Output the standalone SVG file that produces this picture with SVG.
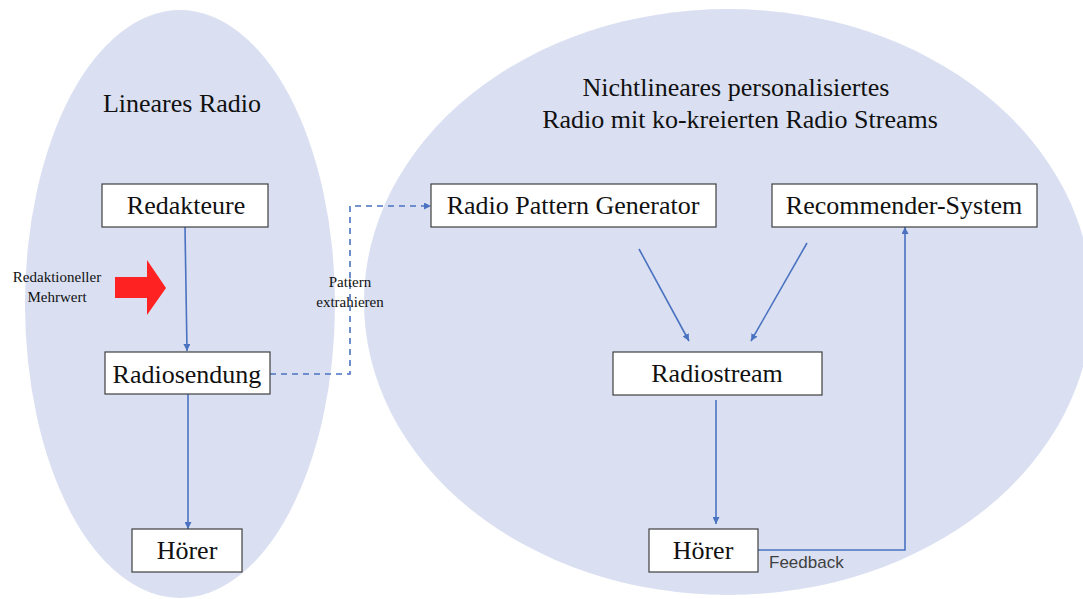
<svg xmlns="http://www.w3.org/2000/svg" width="1083" height="599" viewBox="0 0 1083 599">
  <style>
    .zone { fill: #dae0f2; }
    .box { fill: #ffffff; stroke: #3f3f3f; stroke-width: 1.2; }
    .lbl { font-family: "Liberation Serif", serif; font-size: 26px; fill: #111; text-anchor: middle; }
    .title { font-family: "Liberation Serif", serif; font-size: 26px; fill: #111; text-anchor: middle; }
    .small { font-family: "Liberation Serif", serif; font-size: 15px; fill: #111; text-anchor: middle; }
    .sans { font-family: "Liberation Sans", Arial, sans-serif; font-size: 17px; fill: #404040; }
    .flow { fill: none; stroke: #4a72c0; stroke-width: 1.6; }
    .dash { stroke-dasharray: 6 5; }
  </style>
  <defs>
    <marker id="tip" viewBox="0 0 10 10" refX="10" refY="5" markerWidth="7" markerHeight="7" markerUnits="userSpaceOnUse" orient="auto">
      <path d="M0,0 L10,5 L0,10 Z" fill="#4a72c0"/>
    </marker>
  </defs>

  <rect width="1083" height="599" fill="#ffffff"/>

  <!-- background zones -->
  <g id="zone-linear">
    <ellipse class="zone" cx="180" cy="304" rx="155" ry="294"/>
    <text class="title" x="182" y="112">Lineares Radio</text>
  </g>
  <g id="zone-nonlinear">
    <ellipse class="zone" cx="728" cy="302" rx="364" ry="293"/>
    <text class="title" x="736" y="96">Nichtlineares personalisiertes</text>
    <text class="title" x="740" y="128">Radio mit ko-kreierten Radio Streams</text>
  </g>

  <!-- editorial added value -->
  <g id="added-value">
    <path d="M115,277 L147,277 L147,260 L166,288 L147,315 L147,298 L115,298 Z" fill="#ff2222"/>
    <text class="small" x="57" y="282">Redaktioneller</text>
    <text class="small" x="57" y="302">Mehrwert</text>
  </g>

  <!-- connectors -->
  <g id="connectors">
    <line class="flow" x1="185" y1="227" x2="187" y2="351" marker-end="url(#tip)"/>
    <line class="flow" x1="188" y1="394" x2="188" y2="529" marker-end="url(#tip)"/>
    <polyline class="flow dash" points="270,374 350,374 350,206 431,206" marker-end="url(#tip)"/>
    <line class="flow" x1="639" y1="249" x2="689" y2="341" marker-end="url(#tip)"/>
    <line class="flow" x1="807" y1="243" x2="751" y2="341" marker-end="url(#tip)"/>
    <line class="flow" x1="716" y1="400" x2="716" y2="524" marker-end="url(#tip)"/>
    <polyline class="flow" points="758,550 905,550 905,227" marker-end="url(#tip)"/>
    <text class="small" x="350" y="287">Pattern</text>
    <text class="small" x="350" y="307">extrahieren</text>
    <text class="sans" x="769" y="568">Feedback</text>
  </g>

  <!-- nodes -->
  <g id="redakteure">
    <rect class="box" x="102" y="184" width="166" height="43"/>
    <text class="lbl" x="186" y="214">Redakteure</text>
  </g>
  <g id="radiosendung">
    <rect class="box" x="105" y="352" width="165" height="42"/>
    <text class="lbl" x="187" y="383">Radiosendung</text>
  </g>
  <g id="hoerer-linear">
    <rect class="box" x="132" y="529" width="110" height="43"/>
    <text class="lbl" x="187" y="559">Hörer</text>
  </g>
  <g id="pattern-generator">
    <rect class="box" x="431" y="184" width="285" height="43"/>
    <text class="lbl" x="573" y="214">Radio Pattern Generator</text>
  </g>
  <g id="recommender">
    <rect class="box" x="772" y="184" width="265" height="43"/>
    <text class="lbl" x="904" y="214">Recommender-System</text>
  </g>
  <g id="radiostream">
    <rect class="box" x="613" y="352" width="209" height="43"/>
    <text class="lbl" x="717" y="382">Radiostream</text>
  </g>
  <g id="hoerer-stream">
    <rect class="box" x="649" y="529" width="109" height="43"/>
    <text class="lbl" x="703" y="559">Hörer</text>
  </g>
</svg>
